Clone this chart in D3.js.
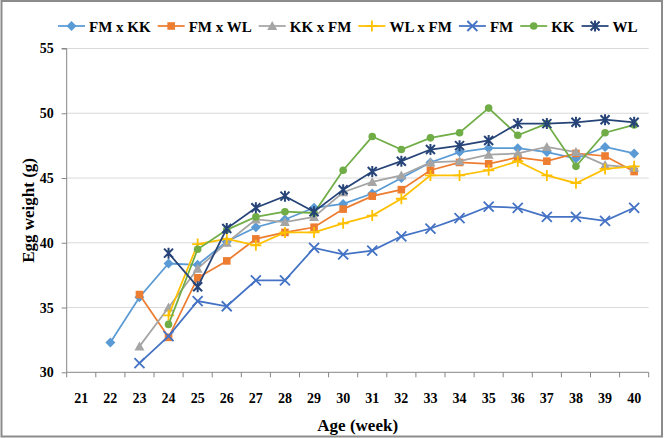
<!DOCTYPE html>
<html>
<head>
<meta charset="utf-8">
<script src="https://cdn.jsdelivr.net/npm/d3@7"></script>
<style>
  body { margin: 0; background: #fff; }
  text { font-family: "Liberation Serif", "Times New Roman", serif; font-weight: bold; fill: #000; }
</style>
</head>
<body>
<svg id="chart"></svg>
<script>
// data
const weeks = d3.range(21, 41);
const yTicks = [30, 35, 40, 45, 50, 55];

const fmxkk = [null, 32.3, 35.8, 38.4, 38.3, 40.1, 41.2, 41.8, 42.7, 43.0, 43.8, 45.0, 46.2, 47.0, 47.3, 47.3, 47.0, 46.5, 47.4, 46.9];
const fmxwl = [null, null, 36.0, 32.7, 37.3, 38.6, 40.3, 40.8, 41.2, 42.6, 43.6, 44.1, 45.6, 46.2, 46.1, 46.6, 46.3, 46.9, 46.7, 45.5];
const kkxfm = [null, null, 32.0, 35.0, 38.0, 40.0, 41.8, 41.6, 42.0, 43.9, 44.7, 45.2, 46.2, 46.3, 46.8, 46.9, 47.4, 47.0, 46.0, 45.8];
const wlxfm = [null, null, null, 34.4, 39.9, 40.3, 39.8, 40.8, 40.8, 41.5, 42.1, 43.4, 45.2, 45.2, 45.6, 46.3, 45.2, 44.6, 45.7, 45.9];
const fm = [null, null, 30.7, 32.8, 35.5, 35.1, 37.1, 37.1, 39.6, 39.1, 39.4, 40.5, 41.1, 41.9, 42.8, 42.7, 42.0, 42.0, 41.7, 42.7];
const kk = [null, null, null, 33.7, 39.5, 41.0, 42.0, 42.4, 42.3, 45.6, 48.2, 47.2, 48.1, 48.5, 50.4, 48.3, 49.2, 45.9, 48.5, 49.1];
const wl = [null, null, null, 39.2, 36.6, 41.1, 42.7, 43.6, 42.4, 44.1, 45.5, 46.3, 47.2, 47.5, 47.9, 49.2, 49.2, 49.3, 49.5, 49.3];

const series = [
  { name: "FM x KK", values: fmxkk, color: "#5B9BD5", marker: "diamond" },
  { name: "FM x WL", values: fmxwl, color: "#ED7D31", marker: "square" },
  { name: "KK x FM", values: kkxfm, color: "#A5A5A5", marker: "triangle" },
  { name: "WL x FM", values: wlxfm, color: "#FFC000", marker: "plus" },
  { name: "FM", values: fm, color: "#4472C4", marker: "x" },
  { name: "KK", values: kk, color: "#70AD47", marker: "circle" },
  { name: "WL", values: wl, color: "#264478", marker: "star" },
];

const width = 664, height = 438;
const plotLeft = 66.7, plotRight = 648.7, plotTop = 48.5, plotBottom = 372.3;

const svg = d3.select("#chart").attr("width", width).attr("height", height);

// outer border
svg.append("rect")
  .attr("x", 1.5).attr("y", 1).attr("width", width - 3.5).attr("height", height - 2.5)
  .attr("fill", "#fff").attr("stroke", "#8c8c8c").attr("stroke-width", 2);

const x = d3.scaleBand().domain(weeks).range([plotLeft, plotRight]).padding(0);
const y = d3.scaleLinear().domain([30, 55]).range([plotBottom, plotTop]);
const cx = (w) => x(w) + x.bandwidth() / 2;

// gridlines
svg.append("g")
  .selectAll("line")
  .data(yTicks.slice(1))
  .join("line")
  .attr("x1", plotLeft).attr("x2", plotRight)
  .attr("y1", (d) => y(d)).attr("y2", (d) => y(d))
  .attr("stroke", "#d9d9d9").attr("stroke-width", 1);

// y axis
svg.append("g")
  .attr("transform", `translate(${plotLeft},0)`)
  .call(d3.axisLeft(y).tickValues(yTicks).tickSize(5).tickPadding(8))
  .call((g) => g.select(".domain").attr("stroke", "#868686").attr("d", `M-5,${y(55)}H0V${y(30)}`))
  .call((g) => g.selectAll(".tick line").attr("stroke", "#868686"))
  .call((g) => g.selectAll(".tick text").style("font-size", "14px").style("font-family", "Liberation Serif").style("font-weight", "bold"));

// x axis
svg.append("g")
  .attr("transform", `translate(0,${plotBottom})`)
  .call(d3.axisBottom(x).tickSize(0).tickPadding(21))
  .call((g) => g.select(".domain").attr("stroke", "#868686").attr("d", `M${plotLeft},0H${plotRight}`))
  .call((g) => g.selectAll(".tick text").style("font-size", "14px").style("font-family", "Liberation Serif").style("font-weight", "bold"));

svg.append("g")
  .selectAll("line")
  .data(weeks.map((w) => x(w)).concat([plotRight]))
  .join("line")
  .attr("x1", (d) => d).attr("x2", (d) => d)
  .attr("y1", plotBottom).attr("y2", plotBottom + 5)
  .attr("stroke", "#868686");

// axis titles
svg.append("text")
  .attr("x", (plotLeft + plotRight) / 2).attr("y", 431)
  .attr("text-anchor", "middle")
  .style("font-size", "17px")
  .text("Age (week)");

svg.append("text")
  .attr("transform", `translate(34, ${(plotTop + plotBottom) / 2}) rotate(-90)`)
  .attr("text-anchor", "middle")
  .style("font-size", "17px")
  .text("Egg weight (g)");

// markers
function drawMarker(g, type, color) {
  if (type === "diamond") {
    g.append("path").attr("d", "M0,-5L5,0L0,5L-5,0Z").attr("fill", color);
  } else if (type === "square") {
    g.append("rect").attr("x", -3.8).attr("y", -3.8).attr("width", 7.6).attr("height", 7.6).attr("fill", color);
  } else if (type === "triangle") {
    g.append("path").attr("d", "M0,-5L5,4L-5,4Z").attr("fill", color);
  } else if (type === "circle") {
    g.append("circle").attr("r", 3.8).attr("fill", color);
  } else if (type === "plus") {
    g.append("path").attr("d", "M-5.5,0H5.5M0,-5.5V5.5").attr("stroke", color).attr("stroke-width", 1.8);
  } else if (type === "x") {
    g.append("path").attr("d", "M-5,-5L5,5M5,-5L-5,5").attr("stroke", color).attr("stroke-width", 1.8);
  } else if (type === "star") {
    g.append("path").attr("d", "M-4.5,-4.5L4.5,4.5M4.5,-4.5L-4.5,4.5M0,-5.5V5.5").attr("stroke", color).attr("stroke-width", 2);
  }
}

const line = d3.line()
  .defined((d) => d.v != null)
  .x((d) => cx(d.w))
  .y((d) => y(d.v));

series.forEach((s) => {
  const pts = weeks.map((w, i) => ({ w, v: s.values[i] }));
  svg.append("path")
    .datum(pts)
    .attr("d", line)
    .attr("fill", "none")
    .attr("stroke", s.color)
    .attr("stroke-width", 1.75);

  svg.append("g")
    .selectAll("g")
    .data(pts.filter((d) => d.v != null))
    .join("g")
    .attr("transform", (d) => `translate(${cx(d.w)},${y(d.v)})`)
    .each(function () { drawMarker(d3.select(this), s.marker, s.color); });
});

// legend
const legend = svg.append("g").attr("transform", "translate(58,26)");
let lx = 0;
series.forEach((s) => {
  const item = legend.append("g").attr("transform", `translate(${lx},0)`);
  item.append("line").attr("x1", 0).attr("x2", 27).attr("stroke", s.color).attr("stroke-width", 1.75);
  const m = item.append("g").attr("transform", "translate(13.5,0)");
  drawMarker(m, s.marker, s.color);
  const t = item.append("text").attr("x", 31).attr("y", 5.5).style("font-size", "15px").text(s.name);
  lx += 31 + t.node().getComputedTextLength() + 7;
});
</script>
</body>
</html>
